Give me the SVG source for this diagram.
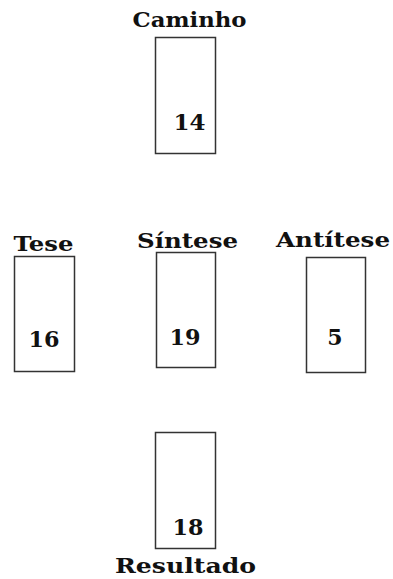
<svg xmlns="http://www.w3.org/2000/svg" width="393" height="579" viewBox="0 0 393 579">
<style>
.box{fill:#fff;stroke:#333;stroke-width:1.5}
.lbl{font-family:"DejaVu Serif","Liberation Serif",serif;font-weight:bold;font-size:21px;fill:#111;text-anchor:middle}
.num{font-family:"DejaVu Serif","Liberation Serif",serif;font-weight:bold;font-size:22px;fill:#111;text-anchor:middle}
</style>
<rect width="393" height="579" fill="#fff"/>
<g id="caminho">
<text class="lbl" x="189.5" y="27" textLength="114" lengthAdjust="spacingAndGlyphs">Caminho</text>
<rect class="box" x="155.5" y="37.5" width="60" height="116"/>
<text class="num" x="189.5" y="130" textLength="32" lengthAdjust="spacingAndGlyphs">14</text>
</g>
<g id="tese">
<text class="lbl" x="43.5" y="251" textLength="60" lengthAdjust="spacingAndGlyphs">Tese</text>
<rect class="box" x="14.5" y="256.5" width="60" height="115"/>
<text class="num" x="44" y="347" textLength="31" lengthAdjust="spacingAndGlyphs">16</text>
</g>
<g id="sintese">
<text class="lbl" x="187.5" y="248" textLength="101" lengthAdjust="spacingAndGlyphs">Síntese</text>
<rect class="box" x="156.5" y="252.5" width="59" height="115"/>
<text class="num" x="185" y="345" textLength="31" lengthAdjust="spacingAndGlyphs">19</text>
</g>
<g id="antitese">
<text class="lbl" x="333" y="247" textLength="114" lengthAdjust="spacingAndGlyphs">Antítese</text>
<rect class="box" x="306.5" y="257.5" width="59" height="115"/>
<text class="num" x="335" y="345">5</text>
</g>
<g id="resultado">
<rect class="box" x="155.5" y="432.5" width="60" height="116"/>
<text class="num" x="188" y="535" textLength="31" lengthAdjust="spacingAndGlyphs">18</text>
<text class="lbl" x="185.5" y="573" textLength="141" lengthAdjust="spacingAndGlyphs">Resultado</text>
</g>
<g id="connectors"></g>
</svg>
